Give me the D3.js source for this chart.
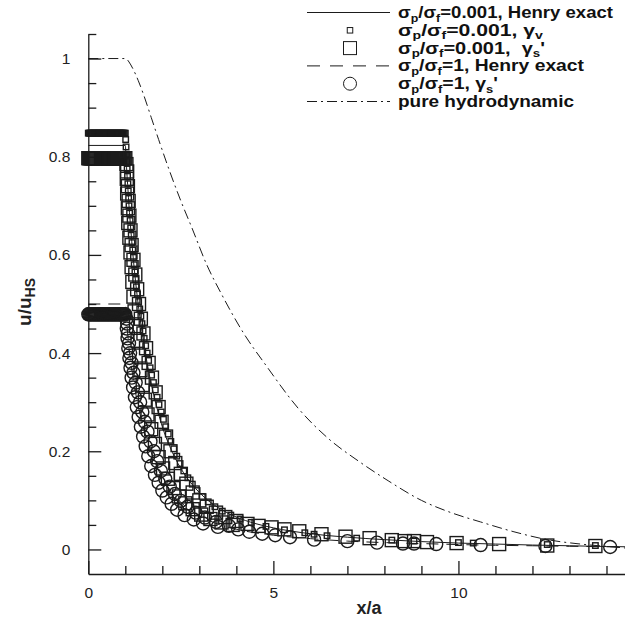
<!DOCTYPE html>
<html><head><meta charset="utf-8">
<script src="https://cdn.jsdelivr.net/npm/d3@7"></script>
<style>
html,body{margin:0;padding:0;background:#fff;}
svg{display:block;font-family:"Liberation Sans",Arial,sans-serif;}
</style></head>
<body><svg id="chart" width="625" height="623"></svg>
<script>
// ---------------- DATA ----------------
// sigma_p/sigma_f = 0.001, Henry exact (solid line)
const henry001X = [0,1.0,1.02,1.04,1.07,1.1,1.15,1.2,1.3,1.4,1.5,1.6,1.8,2.0,2.2,2.5,2.8,3.2,3.6,4.0,4.5,5.0,6.0,7.0,8.0,9.0,10.0,11.0,12.0,13.0,14.0,14.5];
const henry001U = [0.823,0.823,0.80,0.77,0.735,0.70,0.65,0.605,0.53,0.47,0.42,0.375,0.305,0.25,0.21,0.165,0.133,0.102,0.081,0.066,0.053,0.044,0.032,0.025,0.02,0.016,0.013,0.011,0.009,0.0075,0.006,0.0055];
// sigma_p/sigma_f = 1, Henry exact (dashed line)
const henry1X = [0,1.0,1.02,1.04,1.07,1.1,1.15,1.2,1.3,1.4,1.5,1.6,1.8,2.0,2.2,2.5,2.8,3.2,3.6,4.0,4.5,5.0,6.0,7.0,8.0,9.0,10.0,11.0,12.0,13.0,14.0,14.5];
const henry1U = [0.5,0.5,0.48,0.46,0.435,0.41,0.38,0.355,0.31,0.275,0.245,0.22,0.178,0.146,0.122,0.096,0.078,0.061,0.049,0.041,0.034,0.029,0.022,0.017,0.014,0.012,0.01,0.0085,0.0075,0.0065,0.0055,0.005];
// pure hydrodynamic (dash-dot line)
const hydroX = [0,0.5,1.0,1.05,1.1,1.2,1.35,1.5,1.7,1.9,2.2,2.5,2.8,3.2,3.6,4.2,4.8,5.7,6.5,7.3,8.1,9.0,9.8,10.6,11.5,12.4,13.3,14.2,14.5];
const hydroU = [1,1,1,0.998,0.993,0.98,0.955,0.925,0.88,0.835,0.77,0.71,0.655,0.58,0.52,0.44,0.375,0.285,0.225,0.18,0.14,0.1,0.075,0.056,0.036,0.02,0.011,0.005,0.003];

// sample positions on the flat part (x/a <= 1), shared by the three symbol series
const plateauX = [0,0.025,0.05,0.075,0.1,0.125,0.15,0.175,0.2,0.225,0.25,0.275,0.3,0.325,0.35,0.375,0.4,0.425,0.45,0.475,0.5,
  0.525,0.55,0.575,0.6,0.625,0.65,0.675,0.7,0.725,0.75,0.775,0.8,0.825,0.85,0.875,0.9,0.925,0.95,0.975,1.0];
const gvLevel = 0.848, gs001Level = 0.797, gs1Level = 0.479;

// sigma_p/sigma_f = 0.001, gamma_v (small squares), x/a > 1
const gvX = [1.01,1.02,1.03,1.04,1.05,1.06,1.07,1.08,1.09,1.1,1.115,1.13,1.145,1.16,1.18,1.2,1.22,1.24,1.26,1.28,1.3,1.33,1.36,1.39,1.42,1.45,1.48,1.51,1.55,1.59,1.63,1.67,1.71,1.76,1.81,1.86,1.91,1.97,2.03,2.09,2.16,2.23,2.31,2.39,2.48,2.58,2.69,2.81,2.94,3.08,3.24,3.42,3.62,3.85,4.1,4.4,4.8,5.3,5.85,6.1,6.45,7.25,8.2,8.8,10.0,10.4,12.4,13.7];
const gvU = [0.835,0.82,0.805,0.79,0.775,0.76,0.745,0.73,0.715,0.70,0.685,0.67,0.655,0.64,0.625,0.61,0.595,0.58,0.565,0.55,0.535,0.52,0.505,0.49,0.475,0.46,0.445,0.43,0.415,0.40,0.385,0.37,0.355,0.34,0.325,0.31,0.295,0.28,0.265,0.25,0.235,0.22,0.205,0.19,0.175,0.16,0.146,0.133,0.12,0.108,0.097,0.087,0.078,0.07,0.062,0.055,0.047,0.04,0.034,0.031,0.028,0.023,0.019,0.017,0.014,0.013,0.01,0.008];
// sigma_p/sigma_f = 0.001, gamma_s' (large squares), x/a > 1
const gs001X = [1.03,1.05,1.04,1.07,1.05,1.09,1.07,1.11,1.08,1.14,1.11,1.17,1.14,1.22,1.17,1.27,1.19,1.32,1.22,1.37,1.25,1.42,1.29,1.49,1.33,1.56,1.37,1.63,1.41,1.72,1.47,1.82,1.53,1.9,1.6,1.98,1.7,2.1,1.8,2.22,1.9,2.35,2.02,2.5,2.15,2.65,2.3,2.82,2.45,3.0,2.62,3.2,2.82,3.45,3.05,3.7,3.3,4.0,3.6,4.3,3.9,4.6,4.95,5.3,5.7,6.3,6.95,7.6,8.2,8.55,8.8,9.15,9.95,11.1,12.4,13.7];
const gs001U = [0.785,0.77,0.755,0.74,0.725,0.71,0.695,0.68,0.665,0.65,0.635,0.62,0.605,0.59,0.575,0.56,0.545,0.53,0.515,0.50,0.485,0.47,0.455,0.44,0.425,0.41,0.395,0.38,0.365,0.35,0.335,0.32,0.305,0.29,0.275,0.26,0.245,0.23,0.215,0.2,0.188,0.176,0.165,0.154,0.144,0.134,0.125,0.116,0.108,0.1,0.094,0.087,0.082,0.075,0.071,0.066,0.062,0.058,0.055,0.052,0.05,0.048,0.045,0.041,0.037,0.031,0.026,0.023,0.019,0.017,0.017,0.015,0.013,0.011,0.008,0.007];
// sigma_p/sigma_f = 1, gamma_s' (circles), x/a > 1
const gs1X = [1.03,1.05,1.04,1.07,1.06,1.1,1.08,1.13,1.11,1.17,1.14,1.22,1.17,1.28,1.21,1.34,1.26,1.4,1.31,1.46,1.36,1.53,1.42,1.6,1.48,1.68,1.55,1.77,1.62,1.86,1.7,1.96,1.8,2.08,1.9,2.2,2.0,2.34,2.12,2.5,2.25,2.68,2.4,2.9,2.6,3.15,2.85,3.45,3.1,3.8,3.5,4.05,4.35,4.7,5.05,5.45,6.1,7.0,7.8,8.5,8.8,9.4,10.6,12.35,14.1];
const gs1U = [0.47,0.46,0.45,0.44,0.43,0.42,0.41,0.40,0.39,0.38,0.37,0.36,0.35,0.34,0.33,0.32,0.31,0.30,0.29,0.28,0.27,0.26,0.25,0.24,0.23,0.22,0.21,0.20,0.19,0.18,0.17,0.16,0.152,0.144,0.136,0.128,0.12,0.113,0.106,0.099,0.093,0.087,0.081,0.075,0.07,0.065,0.061,0.056,0.053,0.048,0.046,0.041,0.036,0.032,0.029,0.025,0.02,0.017,0.014,0.012,0.012,0.011,0.009,0.007,0.005];

const xMajorTicks = [0,5,10];
const xMajorLabels = ["0","5","10"];
const xMinorTicks = [1,2,3,4,6,7,8,9,11,12,13,14];
const yMajorTicks = [0,0.2,0.4,0.6,0.8,1];
const yMajorLabels = ["0","0.2","0.4","0.6","0.8","1"];
const yMinorTicks = [0.05,0.1,0.15,0.25,0.3,0.35,0.45,0.5,0.55,0.65,0.7,0.75,0.85,0.9,0.95,1.05];

const legendLabels = [
  "σ_{p}/σ_{f}=0.001, Henry exact",
  "σ_{p}/σ_{f}=0.001, γ_{v}",
  "σ_{p}/σ_{f}=0.001,  γ_{s}'",
  "σ_{p}/σ_{f}=1, Henry exact",
  "σ_{p}/σ_{f}=1, γ_{s}'",
  "pure hydrodynamic"
];
const legendKinds = ["solid","smallsq","bigsq","dashed","circle","dashdot"];
const legendWidths = [215,145,147,186,100,176];

// ---------------- CHART ----------------
const ink = "#1b1b1b";
const svg = d3.select("#chart");
const x = d3.scaleLinear().domain([0,14.5]).range([88.3,625]);
const y = d3.scaleLinear().domain([-0.05,1.05]).range([574,34]);

const zip = (a,b)=>a.map((v,i)=>[v,b[i]]);
const withPlateau = (level, xs, us)=>plateauX.map(v=>[v,level]).concat(zip(xs,us));
const line = d3.line().x(d=>x(d[0])).y(d=>y(d[1])).curve(d3.curveMonotoneX);
const dashes = {solid:null, dashed:"12,8", dashdot:"10,4,2,4"};

// lines
svg.append("path").datum(zip(hydroX,hydroU)).attr("d",line)
  .attr("fill","none").attr("stroke",ink).attr("stroke-width",1).attr("stroke-dasharray",dashes.dashdot);
svg.append("path").datum(zip(henry1X,henry1U)).attr("d",line)
  .attr("fill","none").attr("stroke",ink).attr("stroke-width",1).attr("stroke-dasharray",dashes.dashed);
svg.append("path").datum(zip(henry001X,henry001U)).attr("d",line)
  .attr("fill","none").attr("stroke",ink).attr("stroke-width",1);

// markers
const big = 13, small = 5.5, rad = 6.5, mw = 1.4;
svg.append("g").selectAll("rect").data(withPlateau(gs001Level,gs001X,gs001U)).join("rect")
  .attr("x",d=>x(d[0])-big/2).attr("y",d=>y(d[1])-big/2).attr("width",big).attr("height",big)
  .attr("fill","none").attr("stroke",ink).attr("stroke-width",mw);
svg.append("g").selectAll("circle").data(withPlateau(gs1Level,gs1X,gs1U)).join("circle")
  .attr("cx",d=>x(d[0])).attr("cy",d=>y(d[1])).attr("r",rad)
  .attr("fill","none").attr("stroke",ink).attr("stroke-width",mw);
svg.append("g").selectAll("rect").data(withPlateau(gvLevel,gvX,gvU)).join("rect")
  .attr("x",d=>x(d[0])-small/2).attr("y",d=>y(d[1])-small/2).attr("width",small).attr("height",small)
  .attr("fill","none").attr("stroke",ink).attr("stroke-width",mw);

// axes
svg.append("g").attr("transform",`translate(${x(0)},0)`)
  .call(d3.axisLeft(y).tickValues(yMajorTicks).tickFormat((d,i)=>yMajorLabels[i])
    .tickSizeInner(-13).tickSizeOuter(0).tickPadding(18));
svg.append("g").attr("transform",`translate(${x(0)},0)`)
  .call(d3.axisLeft(y).tickValues(yMinorTicks).tickFormat("").tickSizeInner(-8).tickSizeOuter(0))
  .select(".domain").remove();
svg.append("g").attr("transform",`translate(0,${y(-0.05)})`)
  .call(d3.axisBottom(x).tickValues(xMajorTicks).tickFormat((d,i)=>xMajorLabels[i])
    .tickSizeInner(-13).tickSizeOuter(0).tickPadding(13));
svg.append("g").attr("transform",`translate(0,${y(-0.05)})`)
  .call(d3.axisBottom(x).tickValues(xMinorTicks).tickFormat("").tickSizeInner(-8).tickSizeOuter(0))
  .select(".domain").remove();
svg.selectAll(".domain, .tick line").attr("stroke",ink).attr("stroke-width",1.3);
svg.selectAll(".tick text").attr("font-size","15.5px").attr("fill","#222")
  .attr("font-family","'Liberation Sans',Arial,sans-serif");

// axis titles
svg.append("text").attr("x",369).attr("y",614).attr("text-anchor","middle")
  .attr("font-weight","bold").attr("font-size","18px").attr("fill","#222").text("x/a");
const yt = svg.append("text").attr("transform","translate(31,302) rotate(-90)").attr("text-anchor","middle")
  .attr("font-weight","bold").attr("font-size","19px").attr("fill","#222");
yt.append("tspan").text("u/u");
yt.append("tspan").attr("font-size","14px").attr("dy",4).text("HS");

// legend
function richText(sel, str){
  const re = /_\{([^}]*)\}/g; let last=0, m, shifted=false;
  while((m=re.exec(str))){
    if(m.index>last){ sel.append("tspan").attr("dy", shifted? -3.5:0).text(str.slice(last,m.index)); shifted=false; }
    sel.append("tspan").attr("font-size","11px").attr("dy", shifted?0:3.5).text(m[1]); shifted=true;
    last = re.lastIndex;
  }
  if(last<str.length){ sel.append("tspan").attr("dy", shifted? -3.5:0).text(str.slice(last)); }
}
const lg = svg.append("g");
legendLabels.forEach((lab,i)=>{
  const cy = 12.5 + i*17.8;
  const k = legendKinds[i];
  if(k==="solid"||k==="dashed"||k==="dashdot"){
    lg.append("line").attr("x1",307).attr("x2",390).attr("y1",cy).attr("y2",cy)
      .attr("stroke",ink).attr("stroke-width",1).attr("stroke-dasharray", k==="dashed"?"13,10":dashes[k]);
  } else if(k==="smallsq"){
    lg.append("rect").attr("x",350-small/2).attr("y",cy-small/2).attr("width",small).attr("height",small)
      .attr("fill","none").attr("stroke",ink);
  } else if(k==="bigsq"){
    lg.append("rect").attr("x",350-big/2).attr("y",cy-big/2).attr("width",big).attr("height",big)
      .attr("fill","none").attr("stroke",ink);
  } else {
    lg.append("circle").attr("cx",350).attr("cy",cy).attr("r",rad).attr("fill","none").attr("stroke",ink);
  }
  const t = lg.append("text").attr("x",398).attr("y",cy+5.5).attr("font-weight","bold")
    .attr("font-size","16.5px").attr("fill","#111").attr("xml:space","preserve")
    .attr("textLength",legendWidths[i]).attr("lengthAdjust","spacingAndGlyphs");
  richText(t, lab);
});
</script></body></html>
